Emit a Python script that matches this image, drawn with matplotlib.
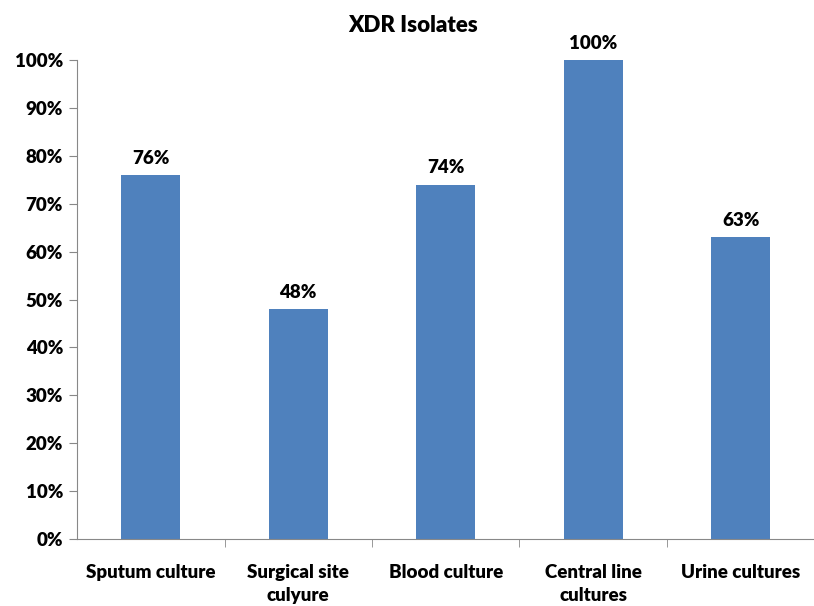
import matplotlib
matplotlib.use('Agg')
import matplotlib.pyplot as plt
import numpy as np

categories = ['Sputum culture', 'Surgical site\nculyure', 'Blood culture',
              'Central line\ncultures', 'Urine cultures']
values = [76, 48, 74, 100, 63]
yticks = list(range(0, 101, 10))

plt.rcParams['font.family'] = ['Lato', 'DejaVu Sans']

fig = plt.figure(figsize=(8.14, 6.06), dpi=100)
ax = fig.add_axes([0.0946, 0.1106, 0.906, 0.790])

x = np.arange(len(categories))
bars = ax.bar(x, values, width=0.4, color='#4F81BD', zorder=2)

for xi, v in zip(x, values):
    ax.text(xi, v + 1.8, f'{v}%', ha='center', va='bottom',
            fontsize=13.5, fontweight='heavy')

ax.set_xlim(-0.5, 4.5)
ax.set_ylim(0, 100)
ax.set_yticks(yticks)
ax.set_yticklabels([f'{t}%' for t in yticks], fontsize=13.5, fontweight='heavy')

ax.set_xticks(x)
ax.set_xticklabels(categories, fontsize=13.5, fontweight='heavy', linespacing=1.4)
ax.set_xticks(np.arange(0.5, 4.5, 1), minor=True)
ax.tick_params(axis='x', which='major', length=0, pad=18)
ax.tick_params(axis='x', which='minor', length=6, color='#888888', direction='out')
ax.tick_params(axis='y', length=6, color='#888888', direction='out', pad=4)

for s in ['top', 'right']:
    ax.spines[s].set_visible(False)
for s in ['left', 'bottom']:
    ax.spines[s].set_color('#888888')

fig.text(0.507, 0.958, 'XDR Isolates', ha='center', va='center',
         fontsize=16, fontweight='heavy')

plt.savefig('out.png', dpi=100)
